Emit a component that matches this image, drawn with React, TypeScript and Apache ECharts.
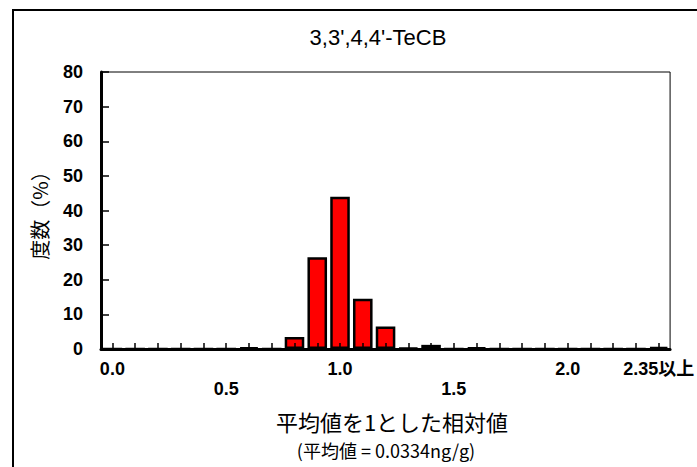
import React, { useEffect, useRef } from "react";
import * as echarts from "echarts";

const title = "3,3',4,4'-TeCB";
const categories = [
  "0.0", "0.1", "0.2", "0.3", "0.4", "0.5", "0.6", "0.7", "0.8", "0.9",
  "1.0", "1.1", "1.2", "1.3", "1.4", "1.5", "1.6", "1.7", "1.8", "1.9",
  "2.0", "2.1", "2.2", "2.3", "2.35以上",
];
const frequency = [
  0, 0, 0, 0, 0, 0, 0.5, 0, 3.5, 26.5,
  44, 14.5, 6.5, 0.3, 1.2, 0, 0.5, 0, 0, 0,
  0, 0, 0, 0, 0.6,
];
const upperLabels = ["0.0", "1.0", "2.0", "2.35以上"];
const lowerLabels = ["0.5", "1.5"];
const yAxisName = "度数（%）";
const xAxisName = "平均値を1とした相対値";
const meanNote = "(平均値 = 0.0334ng/g)";

const latin = "'Liberation Sans', Arial, 'Noto Sans CJK JP', sans-serif";
const cjk = "'Noto Sans CJK JP', 'Liberation Sans', sans-serif";

export default function App() {
  const ref = useRef<HTMLDivElement>(null);
  useEffect(() => {
    if (!ref.current) return;
    const chart = echarts.init(ref.current, null, { renderer: "svg" });
    chart.setOption({
      animation: false,
      backgroundColor: "#fff",
      title: {
        text: title,
        left: 373,
        top: 21,
        textAlign: "center",
        textStyle: { fontFamily: latin, fontSize: 22, fontWeight: "normal", color: "#000" },
      },
      grid: {
        left: 101,
        right: 16,
        top: 72,
        bottom: 118,
        show: true,
        borderColor: "#000",
        borderWidth: 1,
        backgroundColor: "transparent",
      },
      xAxis: {
        type: "category",
        data: categories,
        boundaryGap: true,
        z: 5,
        axisLine: { show: true, lineStyle: { color: "#000", width: 3 } },
        axisTick: { show: true, inside: true, length: 6, alignWithLabel: true, interval: 0, lineStyle: { color: "#000", width: 1.5 } },
        axisLabel: {
          interval: 0,
          margin: 10,
          fontFamily: latin,
          fontSize: 18,
          fontWeight: "bold",
          color: "#000",
          lineHeight: 20,
          formatter: (v: string) => {
            if (upperLabels.includes(v)) return v;
            if (lowerLabels.includes(v)) return "\n" + v;
            return "";
          },
        },
        splitLine: { show: false },
      },
      yAxis: {
        type: "value",
        min: 0,
        max: 80,
        interval: 10,
        z: 5,
        name: yAxisName,
        nameLocation: "middle",
        nameGap: 52,
        nameRotate: 90,
        nameTextStyle: { fontFamily: cjk, fontSize: 20, color: "#000" },
        axisLine: { show: true, lineStyle: { color: "#000", width: 3 } },
        axisTick: { show: true, inside: true, length: 8, lineStyle: { color: "#000", width: 1.5 } },
        axisLabel: { margin: 18, fontFamily: latin, fontSize: 18, fontWeight: "bold", color: "#000" },
        splitLine: { show: false },
      },
      series: [
        {
          type: "bar",
          data: frequency,
          barCategoryGap: "14%",
          itemStyle: { color: "#ff0000", borderColor: "#000", borderWidth: 2.5 },
        },
      ],
      graphic: [
        {
          type: "rect",
          shape: { x: 13, y: 10, width: 700, height: 470 },
          style: { fill: "none", stroke: "#000", lineWidth: 2 },
          silent: true,
        },
        {
          type: "text",
          x: 392,
          y: 421,
          style: { text: xAxisName, fontFamily: cjk, fontSize: 22, fill: "#000", align: "center", verticalAlign: "middle" },
        },
        {
          type: "text",
          x: 386,
          y: 450,
          style: { text: meanNote, fontFamily: cjk, fontSize: 18, fill: "#000", align: "center", verticalAlign: "middle" },
        },
      ],
    });
    return () => chart.dispose();
  }, []);
  return <div ref={ref} style={{ position: "fixed", left: 0, top: 0, width: 697, height: 467 }} />;
}
